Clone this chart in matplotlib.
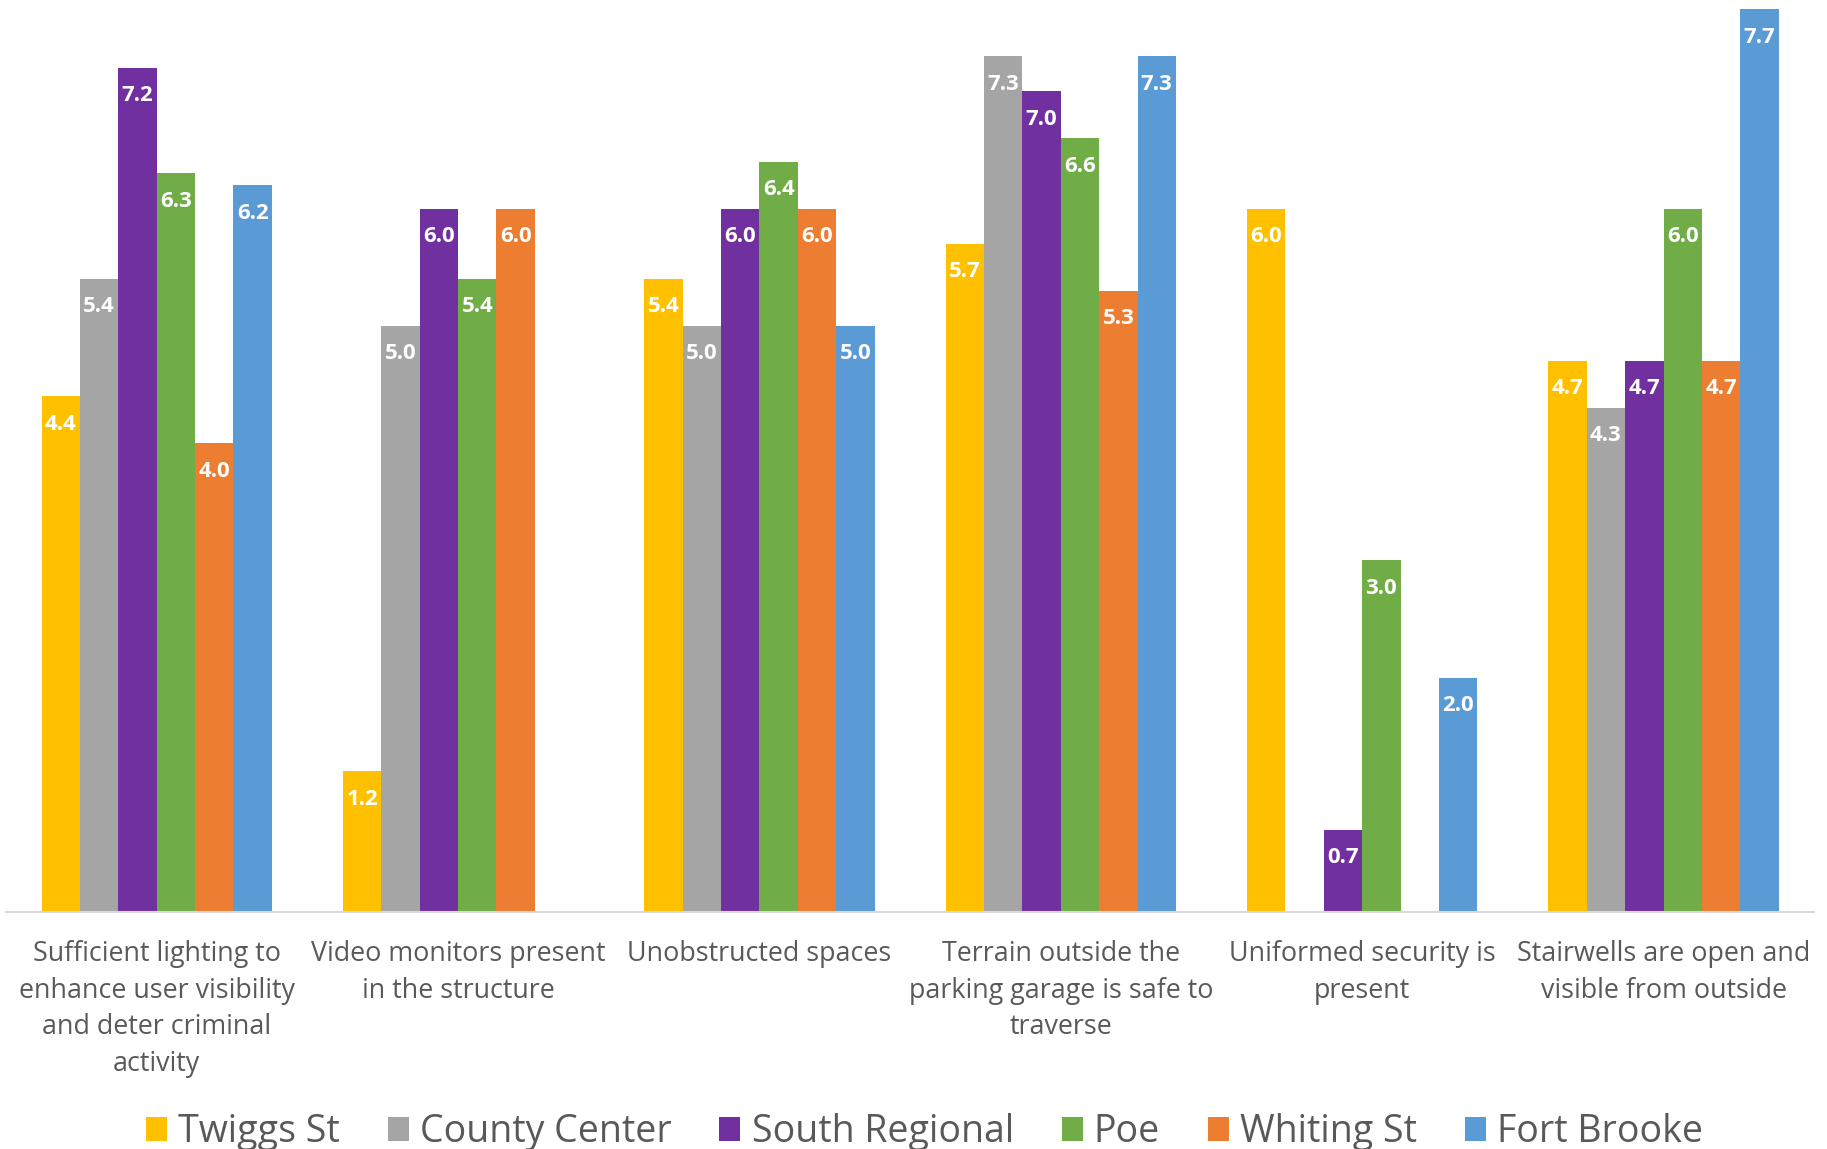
import numpy as np
import matplotlib.pyplot as plt

plt.rcParams['font.family'] = ['Open Sans', 'DejaVu Sans']

categories = [
    "Sufficient lighting to\nenhance user visibility\nand deter criminal\nactivity",
    "Video monitors present\nin the structure",
    "Unobstructed spaces",
    "Terrain outside the\nparking garage is safe to\ntraverse",
    "Uniformed security is\npresent",
    "Stairwells are open and\nvisible from outside",
]
series = ["Twiggs St", "County Center", "South Regional", "Poe", "Whiting St", "Fort Brooke"]
colors = ["#FFC000", "#A5A5A5", "#7030A0", "#70AD47", "#ED7D31", "#5B9BD5"]

twiggs = [4.4, 1.2, 5.4, 5.7, 6.0, 4.7]
county = [5.4, 5.0, 5.0, 7.3, np.nan, 4.3]
south = [7.2, 6.0, 6.0, 7.0, 0.7, 4.7]
poe = [6.3, 5.4, 6.4, 6.6, 3.0, 6.0]
whiting = [4.0, 6.0, 6.0, 5.3, np.nan, 4.7]
fort = [6.2, np.nan, 5.0, 7.3, 2.0, 7.7]
values = [twiggs, county, south, poe, whiting, fort]

fig = plt.figure(figsize=(18.27, 11.49), dpi=100)
ax = fig.add_axes([0.0033, 0.2063, 0.9897, 0.7856])

x = np.arange(len(categories))
w = 0.764 / len(series)
for i, (name, vals, c) in enumerate(zip(series, values, colors)):
    pos = x + (i - 2.5) * w
    bars = ax.bar(pos, vals, width=w, color=c, label=name, clip_on=False)
    for b, v in zip(bars, vals):
        if np.isnan(v):
            continue
        ax.annotate(f"{v:.1f}", (b.get_x() + b.get_width() / 2, v),
                    xytext=(0, -28), textcoords='offset pixels',
                    ha='center', va='center', color='white',
                    fontsize=16, fontweight='bold')

ax.set_xlim(-0.5, len(categories) - 0.5)
ax.set_ylim(0, 7.7)
ax.set_yticks([])
for s in ['top', 'right', 'left']:
    ax.spines[s].set_visible(False)
ax.spines['bottom'].set_color('#D9D9D9')
ax.spines['bottom'].set_linewidth(1.5)
ax.set_xticks(x)
ax.set_xticklabels(categories, fontsize=19.4, color='#595959', linespacing=1.42, va='top')
ax.tick_params(axis='x', length=0, pad=20)

fig.legend(loc='center', bbox_to_anchor=(0.506, 1 - 1132 / 1149), ncol=6,
           frameon=False, fontsize=27, labelcolor='#595959',
           handlelength=0.56, handleheight=0.62, handletextpad=0.3,
           columnspacing=1.27)

fig.savefig("out.png", dpi=100)
